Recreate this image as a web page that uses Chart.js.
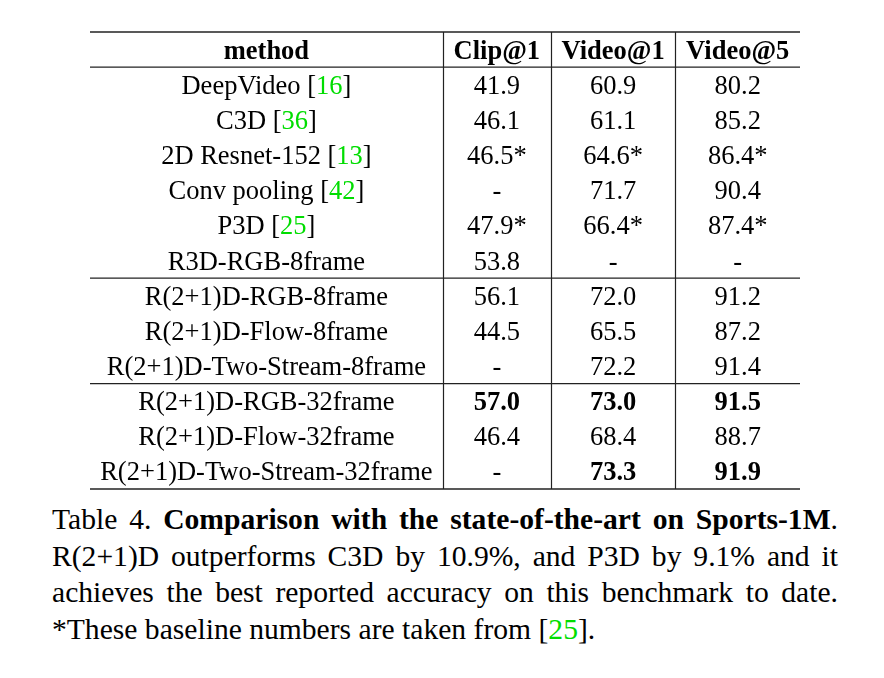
<!DOCTYPE html>
<html lang="en">

<head>
    <meta charset="UTF-8">
    <meta name="viewport" content="width=device-width, initial-scale=1.0">
    <title>Table 4 - Sports-1M</title>
    <script src="https://cdn.jsdelivr.net/npm/chart.js"></script>
    <style>
        body {
            margin: 0;
            background: #fff;
        }

        .wrapper {
            position: absolute;
            left: 0;
            top: 0;
            width: 884px;
            height: 500px;
        }

        .caption {
            position: absolute;
            left: 52px;
            top: 501px;
            width: 786px;
            font-family: "Liberation Serif", "Times New Roman", serif;
            font-size: 29.6px;
            line-height: 36.6px;
            color: #000;
        }

        .caption div {
            white-space: nowrap;
            text-align: justify;
            text-align-last: justify;
        }

        .caption div.last {
            text-align: left;
            text-align-last: left;
        }

        .cite {
            color: #00dd00;
        }
    </style>
</head>

<body>
    <div class="wrapper">
        <canvas id="tableChart" width="884" height="500"></canvas>
    </div>
    <div class="caption">
        <div>Table 4. <b>Comparison with the state-of-the-art on Sports-1M</b>.</div>
        <div>R(2+1)D outperforms C3D by 10.9%, and P3D by 9.1% and it</div>
        <div>achieves the best reported accuracy on this benchmark to date.</div>
        <div class="last">*These baseline numbers are taken from [<span class="cite">25</span>].</div>
    </div>

    <script>
        const columns = ['method', 'Clip@1', 'Video@1', 'Video@5'];

        const methods = [
            'DeepVideo', 'C3D', '2D Resnet-152', 'Conv pooling', 'P3D', 'R3D-RGB-8frame',
            'R(2+1)D-RGB-8frame', 'R(2+1)D-Flow-8frame', 'R(2+1)D-Two-Stream-8frame',
            'R(2+1)D-RGB-32frame', 'R(2+1)D-Flow-32frame', 'R(2+1)D-Two-Stream-32frame'
        ];
        const cites = ['16', '36', '13', '42', '25', null, null, null, null, null, null, null];

        const clip1 = [41.9, 46.1, 46.5, null, 47.9, 53.8, 56.1, 44.5, null, 57.0, 46.4, null];
        const video1 = [60.9, 61.1, 64.6, 71.7, 66.4, null, 72.0, 65.5, 72.2, 73.0, 68.4, 73.3];
        const video5 = [80.2, 85.2, 86.4, 90.4, 87.4, null, 91.2, 87.2, 91.4, 91.5, 88.7, 91.9];

        // numbers copied from [25]
        const starred = [false, false, true, false, true, false, false, false, false, false, false, false];
        // bold cells, per value column
        const boldClip1 = [9];
        const boldVideo1 = [9, 11];
        const boldVideo5 = [9, 11];

        // last row of each block (a rule is drawn under it)
        const blockEnds = [6, 9];

        const FONT = '"Liberation Serif", "Times New Roman", serif';
        const SIZE = 26.5;
        const PAD = 11;
        const INK = '#000';
        const GREEN = '#00dd00';

        const series = [clip1, video1, video5];
        const bolds = [boldClip1, boldVideo1, boldVideo5];

        function fmt(v, i) {
            if (v === null) return '-';
            return v.toFixed(1) + (starred[i] ? '*' : '');
        }

        function methodText(i) {
            return cites[i] ? methods[i] + ' [' + cites[i] + ']' : methods[i];
        }

        // column widths like LaTeX: widest entry plus padding on both sides
        const mctx = document.createElement('canvas').getContext('2d');
        function textW(t, bold) {
            mctx.font = (bold ? 'bold ' : '') + SIZE + 'px ' + FONT;
            return mctx.measureText(t).width;
        }
        const colWidths = columns.map((c, ci) => {
            let w = textW(c, true);
            methods.forEach((m, i) => {
                const t = ci === 0 ? methodText(i) : fmt(series[ci - 1][i], i);
                const b = ci > 0 && bolds[ci - 1].includes(i);
                w = Math.max(w, textW(t, b));
            });
            return w + 2 * PAD;
        });
        const colEdges = [0];
        colWidths.forEach(w => colEdges.push(colEdges[colEdges.length - 1] + w));
        const colMid = i => (colEdges[i] + colEdges[i + 1]) / 2;

        // one point per cell; the plugin writes the cell text at the point
        const points = [];
        methods.forEach((m, i) => {
            points.push({ x: colMid(0), y: i + 1, col: 0, row: i });
            series.forEach((s, si) => points.push({ x: colMid(si + 1), y: i + 1, col: si + 1, row: i }));
        });
        columns.forEach((c, ci) => points.push({ x: colMid(ci), y: 0, col: ci, row: -1 }));

        const tablePlugin = {
            id: 'tablePlugin',
            afterDatasetsDraw(chart) {
                const ctx = chart.ctx;
                const xs = chart.scales.x;
                const ys = chart.scales.y;
                const left = xs.getPixelForValue(colEdges[0]);
                const right = xs.getPixelForValue(colEdges[colEdges.length - 1]);
                const top = ys.getPixelForValue(-0.5);
                const bottom = ys.getPixelForValue(methods.length + 0.5);

                ctx.save();
                ctx.strokeStyle = '#222';
                const hline = (y, w) => {
                    ctx.lineWidth = w;
                    ctx.beginPath();
                    ctx.moveTo(left, y);
                    ctx.lineTo(right, y);
                    ctx.stroke();
                };
                hline(top, 1.5);
                hline(ys.getPixelForValue(0.5), 1.3);
                blockEnds.forEach(r => hline(ys.getPixelForValue(r + 0.5), 1.3));
                hline(bottom, 1.5);

                ctx.lineWidth = 1.2;
                for (let i = 1; i < colEdges.length - 1; i++) {
                    const x = Math.round(xs.getPixelForValue(colEdges[i])) + 0.5;
                    ctx.beginPath();
                    ctx.moveTo(x, top);
                    ctx.lineTo(x, bottom);
                    ctx.stroke();
                }

                ctx.textBaseline = 'alphabetic';
                ctx.textAlign = 'left';
                const off = SIZE * 0.34;
                const pts = chart.data.datasets[0].data;
                pts.forEach(p => {
                    const cx = xs.getPixelForValue(p.x);
                    const cy = ys.getPixelForValue(p.y) + off;
                    if (p.row < 0) {
                        ctx.font = 'bold ' + SIZE + 'px ' + FONT;
                        ctx.fillStyle = INK;
                        ctx.textAlign = 'center';
                        ctx.fillText(columns[p.col], cx, cy);
                        return;
                    }
                    if (p.col === 0) {
                        ctx.font = SIZE + 'px ' + FONT;
                        ctx.textAlign = 'left';
                        const i = p.row;
                        const full = methodText(i);
                        let x = cx - ctx.measureText(full).width / 2;
                        const parts = cites[i]
                            ? [[methods[i] + ' [', INK], [cites[i], GREEN], [']', INK]]
                            : [[methods[i], INK]];
                        parts.forEach(([t, c]) => {
                            ctx.fillStyle = c;
                            ctx.fillText(t, x, cy);
                            x += ctx.measureText(t).width;
                        });
                        return;
                    }
                    const b = bolds[p.col - 1].includes(p.row);
                    ctx.font = (b ? 'bold ' : '') + SIZE + 'px ' + FONT;
                    ctx.fillStyle = INK;
                    ctx.textAlign = 'center';
                    ctx.fillText(fmt(series[p.col - 1][p.row], p.row), cx, cy);
                });
                ctx.restore();
            }
        };

        const ctx = document.getElementById('tableChart').getContext('2d');
        const config = {
            type: 'scatter',
            data: {
                datasets: [{
                    label: 'cells',
                    data: points,
                    pointRadius: 0,
                    pointHoverRadius: 0
                }]
            },
            options: {
                responsive: false,
                animation: false,
                events: [],
                layout: {
                    padding: { left: 90, right: 84, top: 32, bottom: 11 }
                },
                scales: {
                    x: {
                        type: 'linear',
                        display: false,
                        min: colEdges[0],
                        max: colEdges[colEdges.length - 1]
                    },
                    y: {
                        type: 'linear',
                        display: false,
                        reverse: true,
                        min: -0.5,
                        max: methods.length + 0.5
                    }
                },
                plugins: {
                    legend: { display: false },
                    tooltip: { enabled: false },
                    title: { display: false }
                }
            },
            plugins: [tablePlugin]
        };

        new Chart(ctx, config);
    </script>
</body>

</html>
